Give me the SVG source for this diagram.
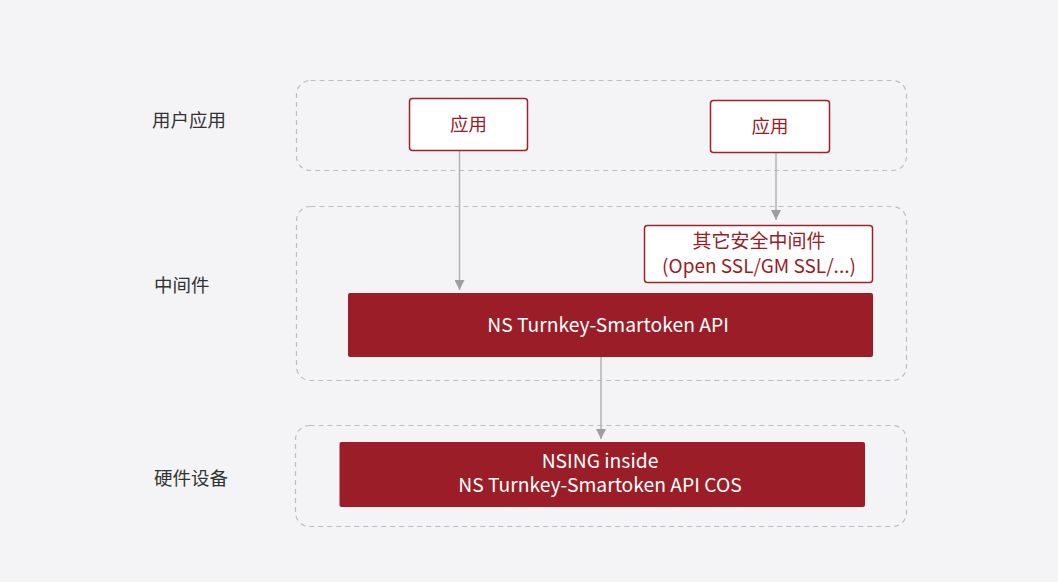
<svg xmlns="http://www.w3.org/2000/svg" width="1058" height="582" viewBox="0 0 1058 582">
<defs>
<style>
.grp{fill:none;stroke:#bdbdbf;stroke-width:1.2;stroke-dasharray:5 4}
.lbl{font-family:"Noto Sans CJK SC","Noto Sans",sans-serif;font-size:18.5px;fill:#333333}
.wbox{fill:#ffffff;stroke:#a0202c;stroke-width:1.5}
.wtxt{font-family:"Noto Sans CJK SC","Noto Sans",sans-serif;font-size:18.5px;fill:#9b1c27;text-anchor:middle}
.mtxt{font-family:"Noto Sans CJK SC","Noto Sans",sans-serif;font-size:19px;fill:#9b1c27;text-anchor:middle}
.rbox{fill:#9a1d27}
.rtxt{font-family:"Noto Sans CJK SC","Noto Sans",sans-serif;font-size:19.3px;fill:#ffffff;text-anchor:middle}
.conn{stroke:#b3b3b3;stroke-width:1.5;fill:none}
</style>
<marker id="ah" viewBox="0 0 10 10" refX="10" refY="5" markerWidth="10" markerHeight="10" markerUnits="userSpaceOnUse" orient="auto">
<path d="M0,0 L10,5 L0,10 z" fill="#9e9e9e"/>
</marker>
</defs>
<rect x="0" y="0" width="1058" height="582" fill="#f4f4f6"/>
<g id="group-user">
<rect class="grp" x="296.5" y="80.5" width="610" height="90" rx="14"/>
<text class="lbl" x="152" y="127">用户应用</text>
</g>
<g id="group-middleware">
<rect class="grp" x="296.5" y="206.5" width="610" height="174" rx="14"/>
<text class="lbl" x="154" y="291.5">中间件</text>
</g>
<g id="group-hardware">
<rect class="grp" x="295.5" y="425.5" width="611" height="101" rx="14"/>
<text class="lbl" x="154" y="484.5">硬件设备</text>
</g>
<g id="connectors">
<line class="conn" x1="459.5" y1="151" x2="459.5" y2="290" marker-end="url(#ah)"/>
<line class="conn" x1="776" y1="153" x2="776" y2="220" marker-end="url(#ah)"/>
<line class="conn" x1="601" y1="357" x2="601" y2="439" marker-end="url(#ah)"/>
</g>
<g id="app1">
<rect class="wbox" x="409.5" y="98.5" width="118" height="52" rx="3"/>
<text class="wtxt" x="468.5" y="131">应用</text>
</g>
<g id="app2">
<rect class="wbox" x="710.5" y="100.5" width="119" height="52" rx="3"/>
<text class="wtxt" x="770" y="133">应用</text>
</g>
<g id="other-middleware">
<rect class="wbox" x="644.5" y="225.5" width="228" height="57" rx="3"/>
<text class="mtxt" x="759" y="248">其它安全中间件</text>
<text class="mtxt" x="759" y="273">(Open SSL/GM SSL/...)</text>
</g>
<g id="api">
<rect class="rbox" x="348" y="293" width="525" height="64" rx="2"/>
<text class="rtxt" x="608" y="331.5">NS Turnkey-Smartoken API</text>
</g>
<g id="cos">
<rect class="rbox" x="339.5" y="442" width="525.5" height="65" rx="2"/>
<text class="rtxt" x="600" y="468">NSING inside</text>
<text class="rtxt" x="600" y="492">NS Turnkey-Smartoken API COS</text>
</g>
</svg>
